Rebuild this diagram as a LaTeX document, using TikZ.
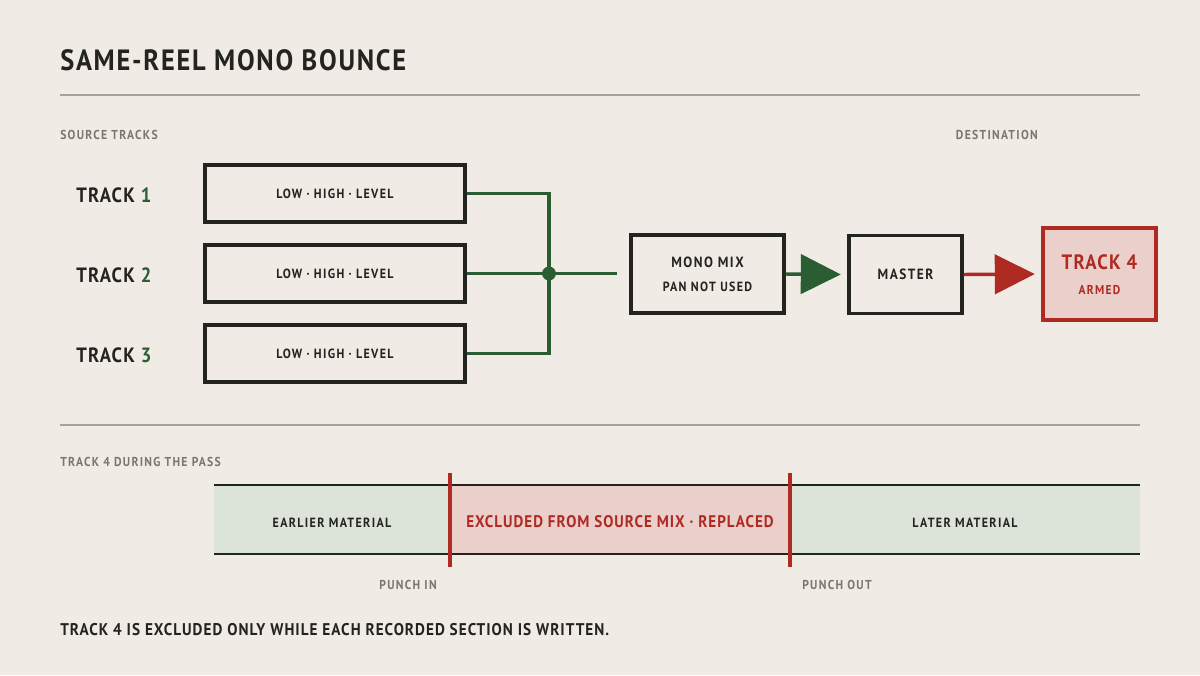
\documentclass[tikz,border=0pt]{standalone}
\usepackage{fontspec}
\setmainfont{PT Sans}[FakeStretch=0.9]
\newfontfamily\titlef{PT Sans}[FakeStretch=0.9,LetterSpace=6]
\newfontfamily\labf{PT Sans}[FakeStretch=0.9,LetterSpace=10]
\newfontfamily\midf{PT Sans}[FakeStretch=0.9,LetterSpace=6]
\usetikzlibrary{arrows.meta}
\definecolor{bg}{HTML}{F0EBE4}
\definecolor{ink}{HTML}{23231F}
\definecolor{muted}{HTML}{7D766B}
\definecolor{rulec}{HTML}{A8A395}
\definecolor{grn}{HTML}{2A5E32}
\definecolor{redc}{HTML}{B02A24}
\definecolor{pinkf}{HTML}{EBCFCA}
\definecolor{sagef}{HTML}{DCE3D8}
\tikzset{
  src/.style={draw=ink, line width=2.3pt, minimum width=195pt, minimum height=42.75pt, inner sep=0pt, font=\labf\bfseries\fontsize{10}{12}\selectfont, text=ink},
  procbox/.style={draw=ink, line width=2.3pt, inner sep=0pt, text=ink, align=center},
  smalllab/.style={font=\labf\bfseries\fontsize{9.7}{11}\selectfont, text=muted, inner sep=0pt},
  tracklab/.style={font=\midf\bfseries\fontsize{15.5}{18}\selectfont, text=ink, inner sep=0pt, anchor=west},
  wire/.style={draw=grn, line width=2.6pt},
  rulel/.style={draw=rulec, line width=1.5pt},
}
\begin{document}
\begin{tikzpicture}[x=0.75pt,y=-0.75pt]
\fill[bg] (0,0) rectangle (1200,675);
\useasboundingbox (0,0) rectangle (1200,675);

\node[anchor=base west, inner sep=0pt, font=\titlef\bfseries\fontsize{22}{26}\selectfont, text=ink] (title) at (60,70) {SAME-REEL MONO BOUNCE};
\coordinate (r1a) at (60,95); \coordinate (r1b) at (1140,95);
\draw[rulel] (r1a) -- (r1b);

\node[smalllab, anchor=west] (srcl) at (60,134.5) {SOURCE TRACKS};
\node[smalllab, anchor=east] (dstl) at (1038,134.5) {DESTINATION};

\node[tracklab] (t1) at (76,195.5) {TRACK \textcolor{grn}{1}};
\node[tracklab] (t2) at (76,275.5) {TRACK \textcolor{grn}{2}};
\node[tracklab] (t3) at (76,355.5) {TRACK \textcolor{grn}{3}};

\node[src] (b1) at (335,193.5) {LOW · HIGH · LEVEL};
\node[src] (b2) at (335,273.5) {LOW · HIGH · LEVEL};
\node[src] (b3) at (335,353.5) {LOW · HIGH · LEVEL};

\coordinate (j) at (549,273.5);
\coordinate (jend) at (617,273.5);
\draw[wire] (b1.east) -| (j);
\draw[wire] (b3.east) -| (j);
\draw[wire] (b2.east) -- (j) -- (jend);
\fill[grn] (j) circle (5.2pt);

\node[procbox, minimum width=114.75pt, minimum height=58.5pt] (mix) at (707.5,274) {};
\node[font=\labf\bfseries\fontsize{11.1}{13}\selectfont, text=ink, inner sep=0pt] (mixt) at (707.5,262.5) {MONO MIX};
\node[font=\labf\bfseries\fontsize{10}{12}\selectfont, text=ink, inner sep=0pt] (mixs) at (707.5,287) {PAN NOT USED};

\node[procbox, minimum width=84.75pt, minimum height=58.5pt, font=\labf\bfseries\fontsize{11.1}{13}\selectfont] (master) at (905.5,274.5) {MASTER};

\node[draw=redc, fill=pinkf, line width=2.3pt, minimum width=84.75pt, minimum height=69pt, inner sep=0pt] (t4) at (1099.5,274) {};
\node[font=\midf\bfseries\fontsize{15.6}{18}\selectfont, text=redc, inner sep=0pt] (t4t) at (1099.5,262.5) {TRACK 4};
\node[font=\labf\bfseries\fontsize{9.6}{11}\selectfont, text=redc, inner sep=0pt] (t4s) at (1099.5,290) {ARMED};

\draw[grn, line width=2.6pt, -{Triangle[length=30pt,width=29.5pt]}, shorten >=5pt] (mix.east) -- (master.west);
\draw[redc, line width=2.6pt, -{Triangle[length=30pt,width=29.5pt]}, shorten >=5pt] (master.east) -- (t4.west);

\coordinate (r2a) at (60,425); \coordinate (r2b) at (1140,425);
\draw[rulel] (r2a) -- (r2b);
\node[smalllab, anchor=west] (passl) at (60,461.5) {TRACK 4 DURING THE PASS};

% strip
\fill[sagef] (214,485) rectangle (450,554);
\fill[pinkf] (450,485) rectangle (790,554);
\fill[sagef] (790,485) rectangle (1140,554);
\draw[ink, line width=2.2pt] (214,485) -- (1140,485);
\draw[ink, line width=2.2pt] (214,554) -- (1140,554);
\draw[redc, line width=2.6pt] (450,473) -- (450,567);
\draw[redc, line width=2.6pt] (790,473) -- (790,567);

\node[font=\labf\bfseries\fontsize{10}{12}\selectfont, text=ink, inner sep=0pt] (early) at (332,522.5) {EARLIER MATERIAL};
\node[font=\midf\bfseries\fontsize{12.6}{15}\selectfont, text=redc, inner sep=0pt] (excl) at (620,522) {EXCLUDED FROM SOURCE MIX · REPLACED};
\node[font=\labf\bfseries\fontsize{10}{12}\selectfont, text=ink, inner sep=0pt] (late) at (965,522.5) {LATER MATERIAL};

\node[smalllab, anchor=east] (pin) at (437,584.5) {PUNCH IN};
\node[smalllab, anchor=west] (pout) at (802,584.5) {PUNCH OUT};

\node[anchor=west, inner sep=0pt, font=\midf\bfseries\fontsize{12.7}{15}\selectfont, text=ink] (foot) at (60,629.5) {TRACK 4 IS EXCLUDED ONLY WHILE EACH RECORDED SECTION IS WRITTEN.};
\end{tikzpicture}
\end{document}
